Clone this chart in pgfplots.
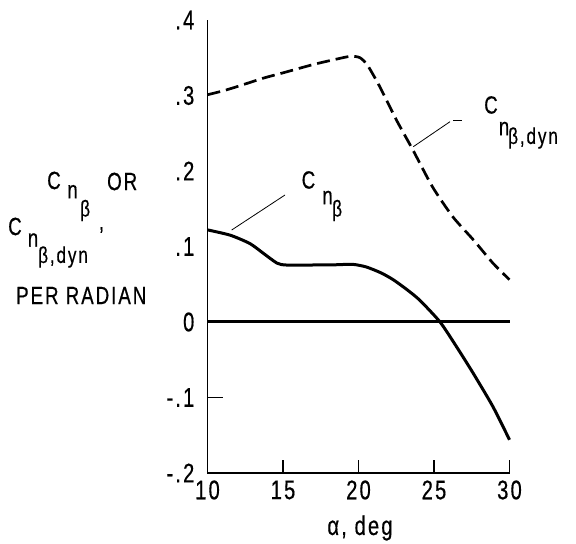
\documentclass[border=0pt]{standalone}
\usepackage{pgfplots}
\pgfplotsset{compat=1.18}
\usepackage{fontspec}
\setmainfont{Liberation Sans}[FakeStretch=0.75, LetterSpace=8, FakeBold=0.5]

% text sizes used in the figure
\newcommand\lbl{\fontsize{25}{27}\selectfont}
\newcommand\sbl{\fontsize{23}{25}\selectfont}
\newcommand\tkl{\fontsize{27}{29}\selectfont}

\begin{document}
\begin{tikzpicture}
\useasboundingbox (-207.5bp,-71bp) rectangle (368.5bp,473bp);
\begin{axis}[
  at={(0,0)}, anchor=south west, scale only axis,
  width=302bp, height=453bp,
  xmin=10, xmax=30, ymin=-0.2, ymax=0.4,
  enlargelimits=false, clip=false,
  axis x line=bottom, axis y line=left,
  axis line style={-},
  x axis line style={line width=1.2bp},
  y axis line style={line width=1.8bp},
  tick align=inside,
  xtick={10,15,20,25,30},
  xticklabels={10,15,20,25,30},
  xtick style={line width=1.6bp, black},
  major tick length=13bp,
  ytick={-0.2,-0.1,0,0.1,0.2,0.3,0.4},
  yticklabels={-.2,-.1,0,.1,.2,.3,.4},
  ytick style={draw=none},
  extra y ticks={-0.1},
  extra y tick labels={},
  extra y tick style={ytick style={draw=black, line width=0.9bp}, major tick length=15bp},
  xticklabel style={font=\tkl, inner sep=0pt, anchor=center, yshift=-17bp},
  yticklabel style={font=\tkl, inner sep=0pt, anchor=east, xshift=-13bp},
]
% zero reference line
\addplot[black, line width=3bp] coordinates {(10,0) (30,0)};

% dynamic directional stability parameter
\addplot[black, line width=2.7bp, dash pattern=on 13bp off 6bp, smooth, tension=0.4] coordinates {
  (10,0.301) (11,0.306) (12,0.312) (13.7,0.323) (15,0.330) (17,0.341)
  (18.5,0.348) (19.5,0.352) (20.1,0.350) (20.6,0.340) (21.4,0.312)
  (22.5,0.268) (23.6,0.228) (24.9,0.179) (26.26,0.139) (27.6,0.109)
  (28.9,0.078) (30,0.056)
};

% static directional stability derivative
\addplot[black, line width=3bp, smooth, tension=0.4] coordinates {
  (10,0.122) (11.5,0.115) (12.8,0.104) (13.7,0.091) (14.6,0.078)
  (15.2,0.0755) (17,0.0755) (18.5,0.0758) (19.6,0.0764) (20.5,0.073)
  (21.5,0.065) (22.3,0.056) (23.2,0.043) (24.05,0.029) (25.4,0)
  (26.5,-0.033) (27.6,-0.068) (28.9,-0.112) (30,-0.156)
};
\end{axis}

% axis title
\node[inner sep=0, font=\tkl] at (152.5bp,-55bp) {α, deg};

% y-axis caption
\node[inner sep=0, font=\lbl] at (-153.5bp,292.5bp) {C};
\node[inner sep=0, font=\lbl] at (-135bp,281.3bp) {n};
\node[inner sep=0, font=\sbl, anchor=west] at (-127.5bp,262.5bp) {β};
\node[inner sep=0, font=\lbl, anchor=west] at (-100.5bp,291.5bp) {OR};
\node[inner sep=0, font=\lbl] at (-192.5bp,246.5bp) {C};
\node[inner sep=0, font=\lbl] at (-174.5bp,233bp) {n};
\node[inner sep=0, font=\sbl, anchor=west] at (-169.5bp,216bp) {β,dyn};
\node[inner sep=0, font=\lbl] at (-106bp,243bp) {,};
\node[inner sep=0, font=\lbl, anchor=west] at (-191.5bp,177.5bp) {PER RADIAN};

% curve labels with leaders
\draw[line width=0.8bp] (24.2bp,243bp) -- (77.5bp,278bp);
\node[inner sep=0, font=\lbl] at (101bp,293bp) {C};
\node[inner sep=0, font=\lbl] at (120bp,275.5bp) {n};
\node[inner sep=0, font=\sbl, anchor=west] at (124.5bp,262.5bp) {β};

\draw[line width=0.8bp] (205.8bp,326.3bp) -- (242.5bp,351.3bp);
\draw[line width=0.8bp] (245.5bp,352.3bp) -- (254.5bp,352.3bp);
\node[inner sep=0, font=\lbl] at (283.5bp,368bp) {C};
\node[inner sep=0, font=\lbl] at (296.5bp,344.5bp) {n};
\node[inner sep=0, font=\sbl, anchor=west] at (300.5bp,335bp) {β,dyn};
\end{tikzpicture}
\end{document}
